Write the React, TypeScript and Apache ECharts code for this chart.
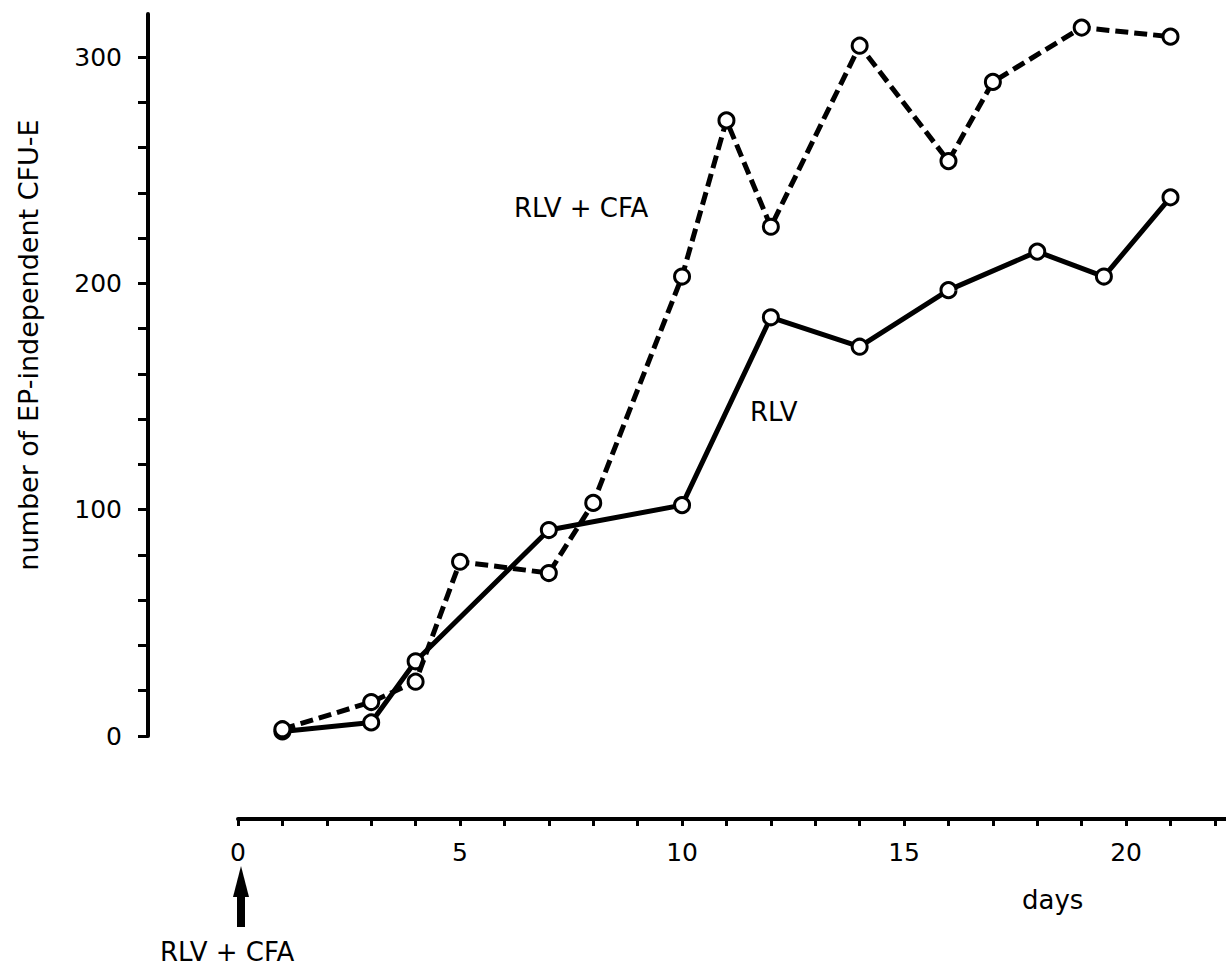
import React, { useEffect, useRef } from "react";
import * as echarts from "echarts";

// ---- data ----
const cfaDays = [1, 3, 4, 5, 7, 8, 10, 11, 12, 14, 16, 17, 19, 21];
const cfaValues = [3, 15, 24, 77, 72, 103, 203, 272, 225, 305, 254, 289, 313, 309];
const rlvDays = [1, 3, 4, 7, 10, 12, 14, 16, 18, 19.5, 21];
const rlvValues = [2, 6, 33, 91, 102, 185, 172, 197, 214, 203, 238];

const yTickValues = [0, 20, 40, 60, 80, 100, 120, 140, 160, 180, 200, 220, 240, 260, 280, 300];
const yLabelValues = [0, 100, 200, 300];
const xTickValues = [0, 1, 2, 3, 4, 5, 6, 7, 8, 9, 10, 11, 12, 13, 14, 15, 16, 17, 18, 19, 20, 21, 22];
const xLabelValues = [0, 5, 10, 15, 20];

const yAxisTitle = "number of EP-independent CFU-E";
const xAxisTitle = "days";
const cfaLabel = "RLV + CFA";
const rlvLabel = "RLV";
const arrowLabel = "RLV + CFA";

const FONT = "DejaVu Sans";

export default function App() {
  const ref = useRef<HTMLDivElement>(null);

  useEffect(() => {
    if (!ref.current) return;
    const chart = echarts.init(ref.current, undefined, { renderer: "svg" });
    const cfaData = cfaDays.map((d, i) => [d, cfaValues[i]]);
    const rlvData = rlvDays.map((d, i) => [d, rlvValues[i]]);

    const symbolStyle = { color: "#fff", borderColor: "#000", borderWidth: 3 };
    const textStyle = (t: string, size = 26) => ({
      text: t,
      fontFamily: FONT,
      fontSize: size,
      fill: "#000",
      textAlign: "left",
      textVerticalAlign: "middle",
    });

    chart.setOption({
      animation: false,
      backgroundColor: "#fff",
      grid: { left: 238, right: 0, top: 14, bottom: 232, containLabel: false },
      xAxis: {
        type: "value",
        min: 0,
        max: 22.25,
        offset: 83,
        axisLine: { show: true, onZero: false, lineStyle: { color: "#000", width: 4 } },
        axisTick: { show: true, length: 7, customValues: xTickValues, lineStyle: { color: "#000", width: 3 } },
        axisLabel: {
          customValues: xLabelValues,
          margin: 21,
          color: "#000",
          fontFamily: FONT,
          fontSize: 25,
        },
        splitLine: { show: false },
      },
      yAxis: {
        type: "value",
        min: 0,
        max: 319,
        offset: 90,
        axisLine: { show: true, onZero: false, lineStyle: { color: "#000", width: 4 } },
        axisTick: { show: true, length: 10, customValues: yTickValues, lineStyle: { color: "#000", width: 3 } },
        axisLabel: {
          customValues: yLabelValues,
          margin: 26,
          color: "#000",
          fontFamily: FONT,
          fontSize: 25,
        },
        splitLine: { show: false },
      },
      series: [
        {
          name: "RLV + CFA",
          type: "line",
          data: cfaData,
          symbol: "circle",
          symbolSize: 15,
          itemStyle: symbolStyle,
          lineStyle: { color: "#000", width: 5, type: [13, 6] },
          z: 3,
        },
        {
          name: "RLV",
          type: "line",
          data: rlvData,
          symbol: "circle",
          symbolSize: 15,
          itemStyle: symbolStyle,
          lineStyle: { color: "#000", width: 5 },
          z: 2,
        },
      ],
      graphic: [
        {
          type: "text",
          x: 28,
          y: 345,
          rotation: Math.PI / 2,
          style: { ...textStyle(yAxisTitle, 27), textAlign: "center" },
        },
        { type: "text", x: 514, y: 208, style: textStyle(cfaLabel) },
        { type: "text", x: 750, y: 412, style: textStyle(rlvLabel) },
        { type: "text", x: 1022, y: 900, style: textStyle(xAxisTitle) },
        {
          type: "polygon",
          shape: { points: [[241, 866], [233, 897], [249, 897]] },
          style: { fill: "#000" },
        },
        {
          type: "rect",
          shape: { x: 237, y: 895, width: 8, height: 32 },
          style: { fill: "#000" },
        },
        { type: "text", x: 160, y: 952, style: textStyle(arrowLabel) },
      ],
    });
    return () => chart.dispose();
  }, []);

  return (
    <div
      ref={ref}
      style={{ position: "fixed", left: 0, top: 0, width: 1226, height: 968, background: "#fff" }}
    />
  );
}
